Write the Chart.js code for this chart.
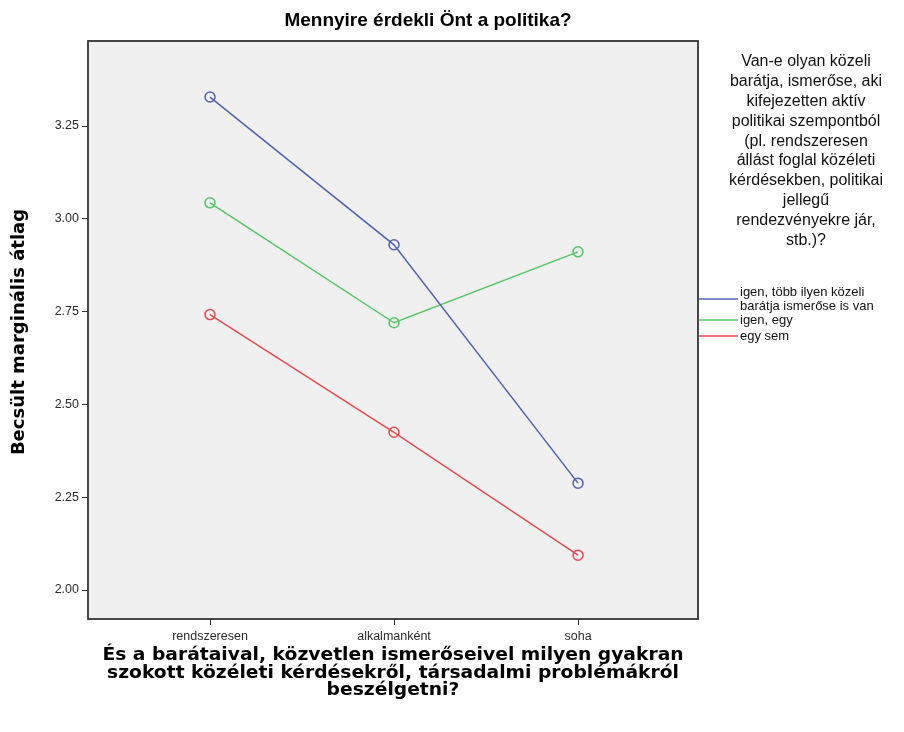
<!DOCTYPE html>
<html>
<head>
<meta charset="utf-8">
<script src="https://cdn.jsdelivr.net/npm/chart.js@4.4.1/dist/chart.umd.min.js"></script>
<style>
  html, body { margin: 0; padding: 0; background: #ffffff; }
  #wrap { width: 904px; height: 732px; }
</style>
</head>
<body>
<div id="wrap"><canvas id="c" width="904" height="732"></canvas></div>
<script>
// ---- data ----
const categories = ['rendszeresen', 'alkalmanként', 'soha'];
const seriesNames = ['igen, több ilyen közeli barátja ismerőse is van', 'igen, egy', 'egy sem'];
const blueValues = [3.328, 2.930, 2.288];
const greenValues = [3.043, 2.720, 2.911];
const redValues = [2.742, 2.425, 2.094];
const yTicks = [2.00, 2.25, 2.50, 2.75, 3.00, 3.25];
const chartTitle = 'Mennyire érdekli Önt a politika?';
const yTitle = 'Becsült marginális átlag';
const xTitleLines = [
  'És a barátaival, közvetlen ismerőseivel milyen gyakran',
  'szokott közéleti kérdésekről, társadalmi problémákról',
  'beszélgetni?'
];
const legendTitleLines = [
  'Van-e olyan közeli',
  'barátja, ismerőse, aki',
  'kifejezetten aktív',
  'politikai szempontból',
  '(pl. rendszeresen',
  'állást foglal közéleti',
  'kérdésekben, politikai',
  'jellegű',
  'rendezvényekre jár,',
  'stb.)?'
];
const legendItemLines = [
  ['igen, több ilyen közeli', 'barátja ismerőse is van'],
  ['igen, egy'],
  ['egy sem']
];
const seriesColors = ['#5263ad', '#55c465', '#e44b50'];

// ---- chart ----
const seriesValues = [blueValues, greenValues, redValues];
const datasets = seriesValues.map((vals, k) => ({
  label: seriesNames[k],
  data: vals.map((v, i) => ({ x: i, y: v })),
  borderColor: seriesColors[k],
  borderWidth: 1.5,
  pointStyle: 'circle',
  pointRadius: 5,
  pointHoverRadius: 5,
  pointBorderWidth: 1.5,
  pointBorderColor: seriesColors[k],
  pointBackgroundColor: 'rgba(0,0,0,0)',
  fill: false,
  tension: 0
}));

const FONT = '"Liberation Sans", Arial, sans-serif';

const decor = {
  id: 'decor',
  beforeDraw(chart) {
    const { ctx, chartArea: a } = chart;
    ctx.save();
    ctx.fillStyle = '#ffffff';
    ctx.fillRect(0, 0, chart.width, chart.height);
    ctx.fillStyle = '#f0f0f0';
    ctx.fillRect(a.left, a.top, a.right - a.left, a.bottom - a.top);
    ctx.restore();
  },
  afterDraw(chart) {
    const { ctx, chartArea: a } = chart;
    ctx.save();
    // plot frame
    ctx.strokeStyle = '#333333';
    ctx.lineWidth = 1.8;
    ctx.strokeRect(a.left, a.top, a.right - a.left, a.bottom - a.top);

    ctx.fillStyle = '#000000';
    ctx.textAlign = 'center';
    ctx.textBaseline = 'middle';
    // title
    ctx.font = 'bold 19px ' + FONT;
    ctx.fillText(chartTitle, 428, 21);

    // y title
    ctx.save();
    ctx.translate(19, 332);
    ctx.rotate(-Math.PI / 2);
    ctx.font = 'bold 18px "DejaVu Sans", sans-serif';
    ctx.fillText(yTitle, 0, 0);
    ctx.restore();

    // x title (wide bold face, slightly stretched horizontally)
    ctx.save();
    const cx = (a.left + a.right) / 2;
    ctx.translate(cx, 0);
    ctx.scale(1.1, 1);
    ctx.font = 'bold 17px "DejaVu Sans", sans-serif';
    xTitleLines.forEach((t, i) => ctx.fillText(t, 0, 656 + i * 17.5));
    ctx.restore();

    // legend title
    ctx.fillStyle = '#111111';
    ctx.font = '16px ' + FONT;
    legendTitleLines.forEach((t, i) => ctx.fillText(t, 806, 62 + i * 19.8));

    // legend items
    ctx.textAlign = 'left';
    ctx.font = '13px ' + FONT;
    const itemLineY = [299, 320, 336];
    const itemTextY = [[292, 306], [320], [336]];
    legendItemLines.forEach((lines, k) => {
      ctx.strokeStyle = seriesColors[k];
      ctx.lineWidth = 1.3;
      ctx.beginPath();
      ctx.moveTo(a.right + 1, itemLineY[k]);
      ctx.lineTo(a.right + 40, itemLineY[k]);
      ctx.stroke();
      lines.forEach((t, j) => ctx.fillText(t, a.right + 42, itemTextY[k][j]));
    });
    ctx.restore();
  }
};

new Chart(document.getElementById('c'), {
  type: 'line',
  data: { datasets },
  options: {
    responsive: false,
    animation: false,
    layout: { padding: { left: 0, top: 41, right: 206, bottom: 0 } },
    plugins: { legend: { display: false }, title: { display: false }, tooltip: { enabled: false } },
    scales: {
      x: {
        type: 'linear',
        min: -0.663,
        max: 2.652,
        afterBuildTicks: (s) => { s.ticks = categories.map((c, i) => ({ value: i })); },
        afterFit: (s) => { s.height = 113; },
        ticks: {
          callback: (v) => categories[v],
          font: { family: FONT, size: 12.5 },
          color: '#2a2a2a',
          padding: 4,
          maxRotation: 0
        },
        grid: { drawOnChartArea: false, drawTicks: true, tickLength: 6, tickColor: '#333333', tickWidth: 1 },
        border: { display: false }
      },
      y: {
        type: 'linear',
        min: 1.922,
        max: 3.479,
        afterBuildTicks: (s) => { s.ticks = yTicks.map(v => ({ value: v })); },
        afterFit: (s) => { s.width = 88; },
        ticks: {
          callback: (v) => v.toFixed(2),
          font: { family: FONT, size: 12.5 },
          color: '#2a2a2a',
          padding: 3
        },
        grid: { drawOnChartArea: false, drawTicks: true, tickLength: 6, tickColor: '#333333', tickWidth: 1 },
        border: { display: false }
      }
    }
  },
  plugins: [decor]
});
</script>
</body>
</html>
